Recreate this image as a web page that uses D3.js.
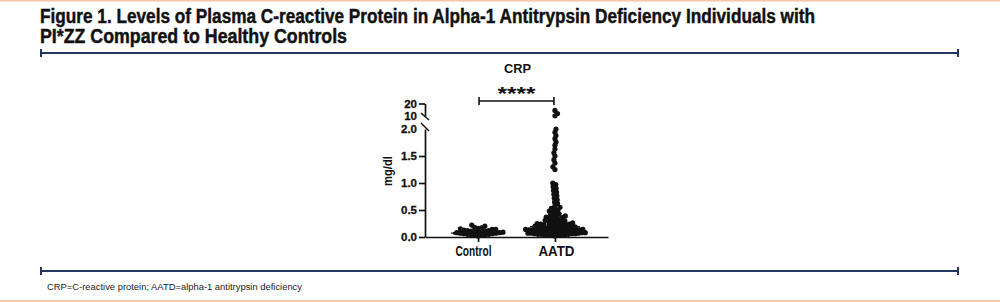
<!DOCTYPE html>
<html>
<head>
<meta charset="utf-8">
<script src="https://cdn.jsdelivr.net/npm/d3@7"></script>
<style>
  html, body { margin: 0; padding: 0; background: #fff; }
  svg { display: block; }
  text { font-family: "Liberation Sans", Arial, Helvetica, sans-serif; }
</style>
</head>
<body>
<div id="chart"></div>
<script>
// ---------------- data ----------------
const titleLines = [
  "Figure 1. Levels of Plasma C-reactive Protein in Alpha-1 Antitrypsin Deficiency Individuals with",
  "PI*ZZ Compared to Healthy Controls"
];
const footnote = "CRP=C-reactive protein; AATD=alpha-1 antitrypsin deficiency";
const panelTitle = "CRP";
const yLabel = "mg/dl";
const categories = ["Control", "AATD"];
const yTicksLower = [0, 0.5, 1.0, 1.5, 2.0];
const yTicksUpper = [10, 20];
const significance = "****";

const controlValues = [
  0.02, 0.03, 0.03, 0.04, 0.04, 0.05, 0.05, 0.06, 0.06, 0.07,
  0.07, 0.08, 0.08, 0.09, 0.09, 0.10, 0.10, 0.11, 0.11, 0.12,
  0.12, 0.13, 0.14, 0.14, 0.15, 0.16, 0.17, 0.18, 0.20, 0.22
];
const aatdValues = [
  14.5, 12, 10.2,
  2.0, 1.94, 1.88, 1.82, 1.76, 1.7, 1.63, 1.56, 1.5, 1.43, 1.37, 1.3, 1.25,
  1.0, 0.97, 0.93, 0.9, 0.86, 0.83, 0.79, 0.76, 0.72, 0.69, 0.65, 0.62, 0.58, 0.55,
  0.53, 0.51, 0.5, 0.48, 0.46, 0.45, 0.43, 0.41, 0.40,
  0.39, 0.38, 0.37, 0.36, 0.35, 0.34, 0.33, 0.32, 0.31, 0.30, 0.29, 0.28, 0.28,
  0.27, 0.26, 0.26, 0.25, 0.24, 0.24, 0.23, 0.23, 0.22, 0.22, 0.21, 0.21,
  0.20, 0.20, 0.19, 0.19, 0.18, 0.18, 0.17, 0.17,
  0.16, 0.16, 0.15, 0.15, 0.15, 0.14, 0.14, 0.14, 0.13, 0.13, 0.13, 0.12, 0.12, 0.12,
  0.11, 0.11, 0.11, 0.10, 0.10, 0.10, 0.09, 0.09, 0.09, 0.08, 0.08, 0.08, 0.07, 0.07,
  0.07, 0.06, 0.06, 0.06, 0.05, 0.05, 0.05, 0.04, 0.04, 0.04, 0.03, 0.03, 0.03, 0.02
];
const meanValues = [0.07, 0.165];
const errValues = [0.01, 0.028];

// ---------------- layout ----------------
const W = 1000, H = 302;
const svg = d3.select("#chart").append("svg").attr("width", W).attr("height", H);
const navy = "#23365f", peach = "#f6c8ab", ink = "#111";

// page borders
svg.append("rect").attr("x", 0).attr("y", 0).attr("width", W).attr("height", 1.6).attr("fill", peach);
svg.append("rect").attr("x", 0).attr("y", 300).attr("width", W).attr("height", 2).attr("fill", peach);

// title
const tWidths = [775, 307];
svg.selectAll("text.title").data(titleLines).enter().append("text")
  .attr("class", "title")
  .attr("x", 40).attr("y", (d, i) => 23 + i * 20)
  .attr("font-size", 20).attr("font-weight", "bold").attr("fill", ink)
  .attr("stroke", ink).attr("stroke-width", 0.45)
  .attr("textLength", (d, i) => tWidths[i]).attr("lengthAdjust", "spacingAndGlyphs")
  .text(d => d);

// rules
function rule(y) {
  const g = svg.append("g").attr("stroke", navy).attr("stroke-width", 2);
  g.append("line").attr("x1", 41).attr("x2", 958).attr("y1", y).attr("y2", y);
  g.append("line").attr("x1", 41).attr("x2", 41).attr("y1", y - 4).attr("y2", y + 4);
  g.append("line").attr("x1", 958).attr("x2", 958).attr("y1", y - 4).attr("y2", y + 4);
}
rule(53);
rule(271);

// footnote
svg.append("text").attr("x", 47).attr("y", 290)
  .attr("font-size", 8.5).attr("fill", "#222")
  .attr("textLength", 255).attr("lengthAdjust", "spacingAndGlyphs")
  .text(footnote);

// ---------------- chart ----------------
const axisX = 425, axisY = 237, axisRight = 608;
const x = d3.scalePoint().domain(categories).range([axisX, axisRight]).padding(0.69);
const yLower = d3.scaleLinear().domain([0, 2]).range([axisY, 129]);
const yUpper = d3.scaleLinear().domain([10, 20]).range([116, 103.5]);
const yOf = v => v > 2 ? yUpper(v) : yLower(v);

const chart = svg.append("g");

// panel title
chart.append("text").attr("x", (axisX + axisRight) / 2 + 1).attr("y", 73)
  .attr("text-anchor", "middle").attr("font-size", 13).attr("font-weight", "bold").attr("fill", ink)
  .attr("textLength", 27).attr("lengthAdjust", "spacingAndGlyphs")
  .text(panelTitle);

// y label
chart.append("text").attr("transform", `translate(392,171) rotate(-90)`)
  .attr("text-anchor", "middle").attr("font-size", 12.5).attr("font-weight", "bold").attr("fill", ink)
  .attr("textLength", 30).attr("lengthAdjust", "spacingAndGlyphs")
  .text(yLabel);

// lower y axis
const gyL = chart.append("g").attr("transform", `translate(${axisX},0)`)
  .call(d3.axisLeft(yLower).tickValues(yTicksLower).tickFormat(d3.format(".1f"))
    .tickSize(6).tickSizeOuter(0).tickPadding(2));
gyL.selectAll(".tick line").filter(d => d === 2).remove();
// upper y axis
const gyU = chart.append("g").attr("transform", `translate(${axisX},0)`)
  .call(d3.axisLeft(yUpper).tickValues(yTicksUpper).tickFormat(d3.format("d"))
    .tickSize(6).tickSizeOuter(0).tickPadding(2));
gyU.selectAll(".tick line").filter(d => d === 10).remove();
[gyL, gyU].forEach(g => {
  g.select(".domain").attr("stroke", ink).attr("stroke-width", 1.7);
  g.selectAll(".tick line").attr("stroke", ink).attr("stroke-width", 1.7);
  g.selectAll(".tick text").attr("font-size", 11.5).attr("font-weight", "bold").attr("fill", ink)
    .attr("font-family", "'Liberation Sans', Arial, sans-serif")
    .attr("stroke", ink).attr("stroke-width", 0.3);
});
// axis break marks
const brk = chart.append("g").attr("stroke", ink).attr("stroke-width", 1.5);
brk.append("line").attr("x1", axisX - 4).attr("y1", yUpper(10) - 3).attr("x2", axisX + 4).attr("y2", yUpper(10) + 4);
brk.append("line").attr("x1", axisX - 4).attr("y1", yLower(2) - 6).attr("x2", axisX + 4).attr("y2", yLower(2) + 2);

// x axis
const gx = chart.append("g").attr("transform", `translate(0,${axisY})`)
  .call(d3.axisBottom(x).tickSize(5).tickSizeOuter(0).tickPadding(3));
gx.select(".domain").attr("stroke", ink).attr("stroke-width", 1.7);
gx.selectAll(".tick line").attr("stroke", ink).attr("stroke-width", 1.7);
gx.selectAll(".tick text").attr("font-size", 15).attr("font-weight", "bold").attr("fill", ink)
  .attr("font-family", "'Liberation Sans', Arial, sans-serif")
  .attr("dx", d => d === "Control" ? -5 : 1)
  .attr("textLength", 36).attr("lengthAdjust", "spacingAndGlyphs");

// beeswarm layout
function beeswarm(vals, d) {
  const pts = vals.map(v => ({ v, y: yOf(v), dx: 0 })).sort((a, b) => a.v - b.v);
  const placed = [];
  pts.forEach((p, i) => {
    const near = placed.filter(q => Math.abs(q.y - p.y) < d);
    const cands = [0];
    near.forEach(q => {
      const off = Math.sqrt(d * d - (q.y - p.y) ** 2);
      cands.push(q.dx + off, q.dx - off);
    });
    const sgn = i % 2 ? 1 : -1;
    cands.sort((a, b) => Math.abs(a) - Math.abs(b) || sgn * (a - b));
    for (const c of cands) {
      if (near.every(q => (q.dx - c) ** 2 + (q.y - p.y) ** 2 >= d * d - 1e-6)) { p.dx = c; break; }
    }
    placed.push(p);
  });
  return pts;
}

const groups = [
  { cat: "Control", vals: controlValues, d: 3.6 },
  { cat: "AATD", vals: aatdValues, d: 3.4 }
];
groups.forEach((g, gi) => {
  const cx = x(g.cat);
  const pts = beeswarm(g.vals, g.d);
  chart.append("g").selectAll("circle").data(pts).enter().append("circle")
    .attr("cx", p => cx + p.dx).attr("cy", p => p.y).attr("r", 2.6).attr("fill", ink);
  // mean and error lines
  const m = meanValues[gi], e = errValues[gi];
  const lg = chart.append("g").attr("stroke", ink).attr("stroke-width", 1.3);
  lg.append("line").attr("x1", cx - 27).attr("x2", cx + 27).attr("y1", yLower(m)).attr("y2", yLower(m));
  [m + e, m - e].forEach(v => {
    lg.append("line").attr("x1", cx - 25).attr("x2", cx + 25).attr("y1", yLower(v)).attr("y2", yLower(v));
  });
});

// significance bracket
const bx1 = x("Control") + 1, bx2 = x("AATD") - 1, by = 101;
const sb = chart.append("g").attr("stroke", ink).attr("stroke-width", 1.6);
sb.append("line").attr("x1", bx1).attr("x2", bx2).attr("y1", by).attr("y2", by);
sb.append("line").attr("x1", bx1).attr("x2", bx1).attr("y1", by - 4).attr("y2", by + 4);
sb.append("line").attr("x1", bx2).attr("x2", bx2).attr("y1", by - 4).attr("y2", by + 4);
chart.append("text").attr("x", (bx1 + bx2) / 2).attr("y", 100)
  .attr("text-anchor", "middle").attr("font-size", 18).attr("font-weight", "bold").attr("fill", ink)
  .attr("textLength", 38).attr("lengthAdjust", "spacingAndGlyphs")
  .text(significance);
</script>
</body>
</html>
